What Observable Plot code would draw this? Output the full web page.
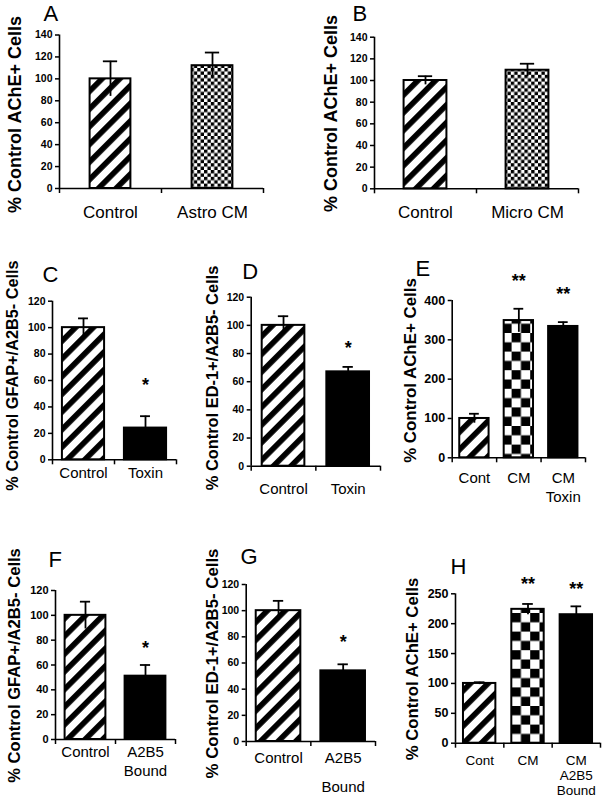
<!DOCTYPE html>
<html><head><meta charset="utf-8">
<script src="https://cdn.jsdelivr.net/npm/d3@7"></script>
<script src="https://cdn.jsdelivr.net/npm/@observablehq/plot@0.6"></script>
<style>
body{margin:0;background:#fff;}
#fig{position:relative;width:602px;height:801px;overflow:hidden;background:#fff;}
.panel{position:absolute;}
</style></head><body><div id="fig"></div>
<script>
// ---------- data ----------
const yLabelAChE = "% Control AChE+ Cells";
const yLabelGFAP = "% Control GFAP+/A2B5- Cells";
const yLabelED1 = "% Control ED-1+/A2B5- Cells";

const catsA = ["Control", "Astro CM"];
const valsA = [100, 112];
const errA = [16, 12];
const ticksA = [0, 20, 40, 60, 80, 100, 120, 140];

const catsB = ["Control", "Micro CM"];
const valsB = [100, 109.5];
const errB = [4, 6];
const ticksB = [0, 20, 40, 60, 80, 100, 120, 140];

const catsC = ["Control", "Toxin"];
const valsC = [100, 24];
const errC = [7, 9];
const starsC = ["", "*"];
const starYC = [null, 60];
const ticksC = [0, 20, 40, 60, 80, 100, 120];

const catsD = ["Control", "Toxin"];
const valsD = [100, 67];
const errD = [6.5, 3.5];
const starsD = ["", "*"];
const starYD = [null, 87];
const ticksD = [0, 20, 40, 60, 80, 100, 120];

const catsE = ["Cont", "CM", "CM\nToxin"];
const valsE = [100, 349, 334];
const errE = [12, 30, 11];
const starsE = ["", "**", "**"];
const starYE = [null, 461, 427];
const ticksE = [0, 100, 200, 300, 400];

const catsF = ["Control", "A2B5\nBound"];
const valsF = [100, 51];
const errF = [11, 9];
const starsF = ["", "*"];
const starYF = [null, 77];
const ticksF = [0, 20, 40, 60, 80, 100, 120];

const catsG = ["Control", "A2B5\nBound"];
const valsG = [100, 54];
const errG = [7.5, 5];
const starsG = ["", "*"];
const starYG = [null, 79];
const ticksG = [0, 20, 40, 60, 80, 100, 120];

const catsH = ["Cont", "CM", "CM\nA2B5\nBound"];
const valsH = [100, 224, 215];
const errH = [2, 9, 14];
const starsH = ["", "**", "**"];
const starYH = [null, 273, 264];
const ticksH = [0, 50, 100, 150, 200, 250];

// ---------- layout / style ----------
const FONT = '"Liberation Sans", Arial, Helvetica, sans-serif';
const panels = [
  {key:"A", letter:"A", cats:catsA, vals:valsA, errs:errA, stars:null, starY:null, ticks:ticksA, ylabel:yLabelAChE,
   box:[0,0,300,230], frame:[59,263,34.5,188], fills:["stripe","checkS"], barW:0.4, capW:0.14,
   tickFs:10.5, yLab:[15,114,18], let:[43,20], catFs:17, catOff:23.7, catLh:1.2},
  {key:"B", letter:"B", cats:catsB, vals:valsB, errs:errB, stars:null, starY:null, ticks:ticksB, ylabel:yLabelAChE,
   box:[300,0,302,230], frame:[374,578,36.7,188.3], fills:["stripe","checkS"], barW:0.42, capW:0.14,
   tickFs:10.5, yLab:[331,113,18], let:[352,20], catFs:17, catOff:23.4, catLh:1.2},
  {key:"C", letter:"C", cats:catsC, vals:valsC, errs:errC, stars:starsC, starY:starYC, ticks:ticksC, ylabel:yLabelGFAP,
   box:[0,240,195,270], frame:[52,176,300.7,459.3], fills:["stripe","black"], barW:0.68, capW:0.16,
   tickFs:10.5, yLab:[12.5,375,16.3], let:[42,281], catFs:15, catOff:12.4, catLh:1.25},
  {key:"D", letter:"D", cats:catsD, vals:valsD, errs:errD, stars:starsD, starY:starYD, ticks:ticksD, ylabel:yLabelED1,
   box:[195,240,205,270], frame:[250.7,380,296.7,465.7], fills:["stripe","black"], barW:0.66, capW:0.16,
   tickFs:10.5, yLab:[212.5,377.5,16.4], let:[241.7,278], catFs:15, catOff:22, catLh:1.25},
  {key:"E", letter:"E", cats:catsE, vals:valsE, errs:errE, stars:starsE, starY:starYE, ticks:ticksE, ylabel:yLabelAChE,
   box:[400,240,202,275], frame:[451.7,585,300,457.3], fills:["stripe","checkL","black"], barW:0.66, capW:0.22,
   tickFs:12.5, yLab:[410.5,370,16.9], let:[415,275], catFs:15, catOff:19.4, catLh:1.3},
  {key:"F", letter:"F", cats:catsF, vals:valsF, errs:errF, stars:starsF, starY:starYF, ticks:ticksF, ylabel:yLabelGFAP,
   box:[0,520,195,281], frame:[55,175,590,739], fills:["stripe","black"], barW:0.68, capW:0.17,
   tickFs:11, yLab:[14.5,665,16.6], let:[48,566.7], catFs:15, catOff:12, catLh:1.27},
  {key:"G", letter:"G", cats:catsG, vals:valsG, errs:errG, stars:starsG, starY:starYG, ticks:ticksG, ylabel:yLabelED1,
   box:[195,520,205,281], frame:[245.7,375,584,741], fills:["stripe","black"], barW:0.69, capW:0.16,
   tickFs:10.5, yLab:[212.5,663,16.8], let:[240,563], catFs:15, catOff:15.7, catLh:1.95},
  {key:"H", letter:"H", cats:catsH, vals:valsH, errs:errH, stars:starsH, starY:starYH, ticks:ticksH, ylabel:yLabelAChE,
   box:[400,520,202,281], frame:[455,600,593.3,742.7], fills:["stripe","checkL","black"], barW:0.67, capW:0.22,
   tickFs:12.5, yLab:[412.5,668.5,16.7], let:[450,573.3], catFs:13.5, catOff:17, catLh:1.1}
];

function addPatterns(svg, key) {
  const defs = d3.select(svg).insert("defs", ":first-child");
  const st = defs.append("pattern").attr("id", "stripe-" + key).attr("patternUnits", "userSpaceOnUse")
    .attr("width", 12.5).attr("height", 12.5).attr("patternTransform", "rotate(45)");
  st.append("rect").attr("width", 12.5).attr("height", 12.5).attr("fill", "white");
  st.append("rect").attr("width", 5.6).attr("height", 12.5).attr("fill", "black");
  for (const [name, s] of [["checkS", 3.4], ["checkL", 9.3]]) {
    const p = defs.append("pattern").attr("id", name + "-" + key).attr("patternUnits", "userSpaceOnUse")
      .attr("width", 2 * s).attr("height", 2 * s);
    p.append("rect").attr("width", 2 * s).attr("height", 2 * s).attr("fill", "white");
    p.append("rect").attr("width", s).attr("height", s).attr("fill", "black");
    p.append("rect").attr("x", s).attr("y", s).attr("width", s).attr("height", s).attr("fill", "black");
  }
}

const fig = document.getElementById("fig");
for (const p of panels) {
  const [left, top, w, h] = p.box;
  const [x0, x1, yT, yB] = p.frame;
  const n = p.cats.length;
  const rows = p.cats.map((c, i) => ({
    i, c, v: p.vals[i], e: p.errs[i],
    f: p.fills[i] === "black" ? "black" : `url(#${p.fills[i]}-${p.key})`,
    s: p.stars ? p.stars[i] : "", sy: p.starY ? p.starY[i] : null
  }));
  const yMax = p.ticks[p.ticks.length - 1];
  // first-line centre offset below the axis (Plot scales the top anchor by lineHeight)
  const catDy = p.catOff - (0.71 * p.catLh - 0.36) * p.catFs;
  const svg = Plot.plot({
    width: w, height: h,
    marginLeft: x0 - left, marginRight: left + w - x1, marginTop: yT - top, marginBottom: top + h - yB,
    x: {domain: [0, n]}, y: {domain: [0, yMax]}, color: {type: "identity"},
    style: {background: "transparent", overflow: "visible", fontFamily: FONT, color: "black"},
    marks: [
      Plot.rect(rows, {x1: d => d.i + 0.5 - p.barW / 2, x2: d => d.i + 0.5 + p.barW / 2, y1: 0, y2: "v",
        fill: "f", stroke: "black", strokeWidth: 2}),
      Plot.ruleX(rows, {x: d => d.i + 0.5, y1: d => d.v - d.e, y2: d => d.v + d.e, stroke: "black", strokeWidth: 1.8}),
      Plot.ruleY(rows, {y: d => d.v + d.e, x1: d => d.i + 0.5 - p.capW / 2, x2: d => d.i + 0.5 + p.capW / 2,
        stroke: "black", strokeWidth: 1.8}),
      Plot.ruleY([0], {stroke: "black", strokeWidth: 1.6}),
      Plot.ruleX([0], {stroke: "black", strokeWidth: 1.6}),
      Plot.axisY({ticks: p.ticks, tickSize: 4, tickPadding: 3, fontSize: p.tickFs, fontWeight: "bold",
        label: null, strokeWidth: 1.5}),
      Plot.axisX({ticks: d3.range(n + 1), tickSize: 5, tickFormat: () => "", label: null, strokeWidth: 1.5}),
      Plot.text(rows, {x: d => d.i + 0.5, text: "c", frameAnchor: "bottom", lineAnchor: "top",
        dy: catDy, fontSize: p.catFs, lineHeight: p.catLh}),
      Plot.text(rows.filter(d => d.s), {x: d => d.i + 0.5, y: "sy", text: "s", fontSize: 18, fontWeight: "bold",
        lineAnchor: "bottom", dy: 10}),
      Plot.text([p.ylabel], {text: d => d, frameAnchor: "top-left", dx: p.yLab[0] - x0, dy: p.yLab[1] - yT,
        rotate: -90, textAnchor: "middle", lineAnchor: "middle", fontSize: p.yLab[2], fontWeight: "bold"}),
      Plot.text([p.letter], {text: d => d, frameAnchor: "top-left", dx: p.let[0] - x0, dy: p.let[1] - yT,
        textAnchor: "start", lineAnchor: "bottom", fontSize: 22})
    ]
  });
  addPatterns(svg, p.key);
  const div = document.createElement("div");
  div.className = "panel";
  div.style.left = left + "px";
  div.style.top = top + "px";
  div.style.width = w + "px";
  div.style.height = h + "px";
  div.appendChild(svg);
  fig.appendChild(div);
}
</script></body></html>
